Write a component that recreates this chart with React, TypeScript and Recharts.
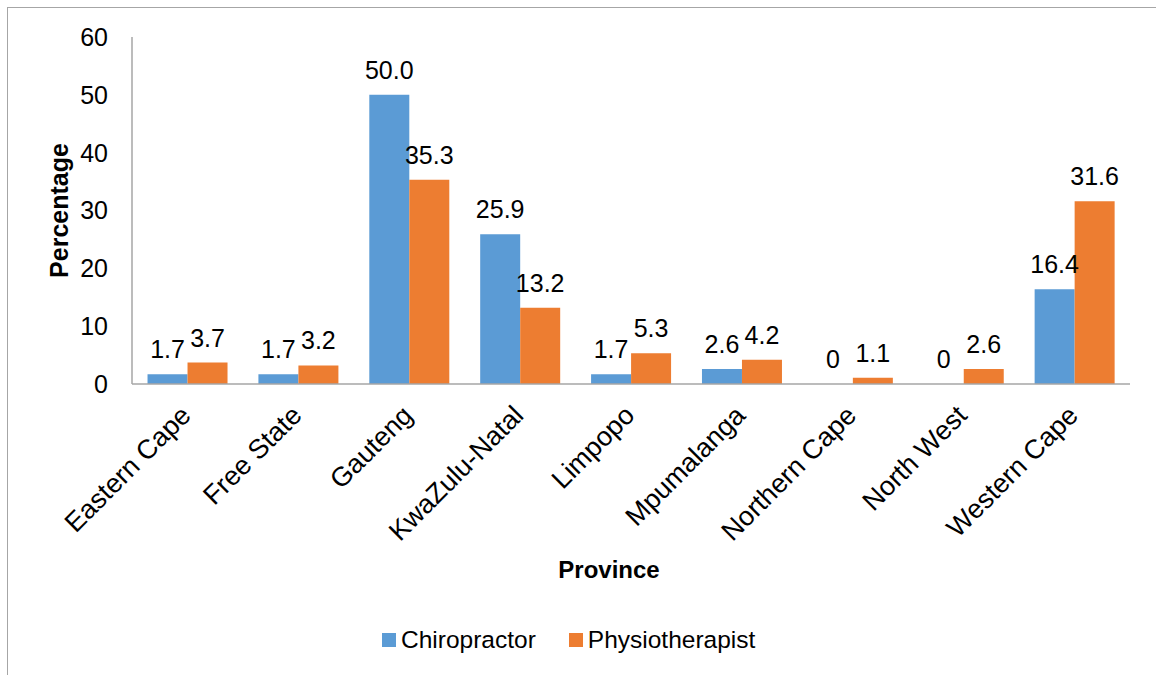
// Chiropractor vs physiotherapist distribution by province (percent).
// Grouped bar chart, values labelled above each bar, rotated category names.

import { BarChart, Bar, XAxis, YAxis, Legend, LabelList, Label } from 'recharts';

// ─── Data ─────────────────────────────────────────────────────────────────────

const provinces = [
  'Eastern Cape',
  'Free State',
  'Gauteng',
  'KwaZulu-Natal',
  'Limpopo',
  'Mpumalanga',
  'Northern Cape',
  'North West',
  'Western Cape',
];

const chiropractor    = [1.7, 1.7, 50.0, 25.9, 1.7, 2.6, 0, 0, 16.4];
const physiotherapist = [3.7, 3.2, 35.3, 13.2, 5.3, 4.2, 1.1, 2.6, 31.6];

const yTicks = [0, 10, 20, 30, 40, 50, 60];

const seriesNames = { chiropractor: 'Chiropractor', physiotherapist: 'Physiotherapist' };

// ─── Style ────────────────────────────────────────────────────────────────────

const FONT   = '"Liberation Sans", Arial, sans-serif';
const BLUE   = '#5B9BD5';
const ORANGE = '#ED7D31';
const AXIS   = '#a6a6a6';

const data = provinces.map((province, i) => ({
  province,
  chiropractor:    chiropractor[i],
  physiotherapist: physiotherapist[i],
}));

const fmtLabel = (v: number) => (v === 0 ? '0' : v.toFixed(1));

// ─── Pieces ───────────────────────────────────────────────────────────────────

// value above the bar; drawn by hand so a zero value still gets its "0"
function ValueLabel({ x, y, width, value, viewBox }: any) {
  const bx = x ?? viewBox?.x;
  const by = y ?? viewBox?.y;
  const bw = width ?? viewBox?.width;
  return (
    <text
      x={Number(bx) + Number(bw) / 2}
      y={Number(by) - 16}
      textAnchor="middle"
      fontSize={25}
      fontFamily={FONT}
      fill="#000"
    >
      {fmtLabel(Number(value ?? 0))}
    </text>
  );
}

function CategoryTick({ x, y, payload }: any) {
  const tx = x + 5;
  const ty = y + 33;
  return (
    <text
      x={tx}
      y={ty}
      transform={`rotate(-45 ${tx} ${ty})`}
      textAnchor="end"
      fontSize={27}
      fontFamily={FONT}
      fill="#000"
    >
      {payload.value}
    </text>
  );
}

function YTitle({ viewBox }: any) {
  const cx = viewBox.x + 50.5;
  const cy = viewBox.y + viewBox.height / 2;
  return (
    <text
      x={cx}
      y={cy}
      transform={`rotate(-90 ${cx} ${cy})`}
      textAnchor="middle"
      dominantBaseline="central"
      fontSize={25}
      fontWeight="bold"
      fontFamily={FONT}
      fill="#000"
    >
      Percentage
    </text>
  );
}

function XTitle({ viewBox }: any) {
  return (
    <text
      x={viewBox.x + viewBox.width / 2 - 22}
      y={viewBox.y + 194}
      textAnchor="middle"
      fontSize={24}
      fontWeight="bold"
      fontFamily={FONT}
      fill="#000"
    >
      Province
    </text>
  );
}

function LegendBox() {
  const items = [
    { name: seriesNames.chiropractor,    color: BLUE },
    { name: seriesNames.physiotherapist, color: ORANGE },
  ];
  return (
    <div
      style={{
        display:    'flex',
        alignItems: 'center',
        height:     30,
        paddingLeft: 374,
        fontFamily: FONT,
        fontSize:   24.5,
        color:      '#000',
      }}
    >
      {items.map((it) => (
        <div key={it.name} style={{ display: 'flex', alignItems: 'center', marginRight: 33 }}>
          <span style={{ width: 14, height: 14, background: it.color, marginRight: 5 }} />
          <span>{it.name}</span>
        </div>
      ))}
    </div>
  );
}

// ─── Chart ────────────────────────────────────────────────────────────────────

export default function App() {
  return (
    <div
      style={{
        position:   'absolute',
        left:       7,
        top:        7,
        width:      1160,
        height:     680,
        borderTop:  `1px solid ${AXIS}`,
        borderLeft: `1px solid ${AXIS}`,
        background: '#fff',
      }}
    >
      <BarChart
        width={1148}
        height={667}
        data={data}
        margin={{ top: 29, right: 26, bottom: 20, left: 0 }}
        barCategoryGap="14%"
        barGap={0}
      >
        <XAxis
          dataKey="province"
          interval={0}
          height={241}
          tick={<CategoryTick />}
          tickLine={false}
          tickSize={0}
          tickMargin={0}
          axisLine={{ stroke: AXIS, strokeWidth: 1.5 }}
        >
          <Label content={<XTitle />} />
        </XAxis>

        <YAxis
          domain={[0, 60]}
          ticks={yTicks}
          width={124}
          tickLine={false}
          tickSize={0}
          tickMargin={24}
          tick={{ fill: '#000', fontSize: 25, fontFamily: FONT }}
          axisLine={{ stroke: AXIS, strokeWidth: 1.5 }}
        >
          <Label content={<YTitle />} />
        </YAxis>

        <Legend verticalAlign="bottom" content={<LegendBox />} />

        {/* minPointSize keeps zero-value bars (and their "0" labels) in the layout */}
        <Bar
          dataKey="chiropractor"
          name={seriesNames.chiropractor}
          fill={BLUE}
          minPointSize={0.01}
          isAnimationActive={false}
        >
          <LabelList dataKey="chiropractor" content={<ValueLabel />} />
        </Bar>
        <Bar
          dataKey="physiotherapist"
          name={seriesNames.physiotherapist}
          fill={ORANGE}
          minPointSize={0.01}
          isAnimationActive={false}
        >
          <LabelList dataKey="physiotherapist" content={<ValueLabel />} />
        </Bar>
      </BarChart>
    </div>
  );
}
